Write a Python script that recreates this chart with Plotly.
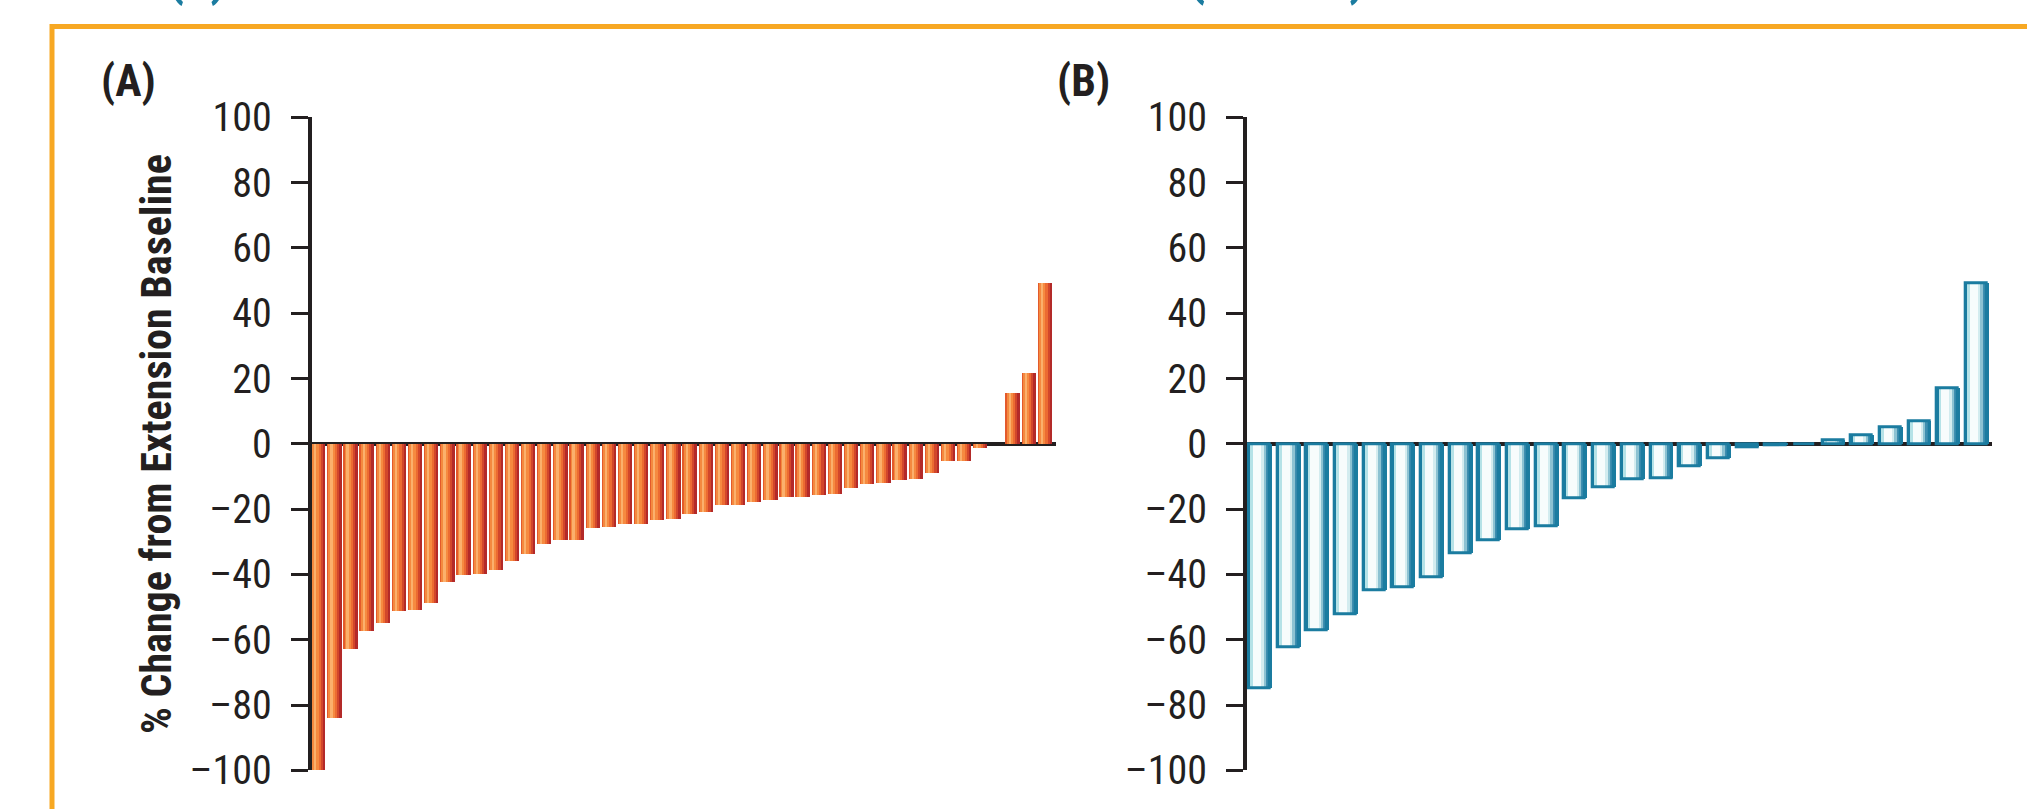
import plotly.graph_objects as go

# ---------------- data ----------------
patients_a = list(range(46))
change_a = [-100.0, -84.2, -62.8, -57.5, -55.1, -51.2, -50.9, -49.0, -42.4, -40.2,
            -39.9, -38.7, -35.9, -33.8, -30.8, -29.5, -29.5, -25.9, -25.6, -24.6,
            -24.6, -23.4, -23.1, -21.7, -21.1, -18.8, -18.8, -17.9, -17.3, -16.4,
            -16.4, -15.8, -15.5, -13.6, -12.4, -12.1, -11.3, -10.9, -9.1, -5.4,
            -5.4, -1.4, 0.0, 15.4, 21.5, 49.3]

patients_b = list(range(26))
change_b = [-74.9, -62.4, -57.1, -52.3, -44.8, -43.8, -40.8, -33.6, -29.7, -26.2,
            -25.3, -16.7, -13.4, -11.0, -10.7, -6.9, -4.3, -1.1, -0.5, 0.0,
            1.1, 2.6, 5.2, 7.0, 17.1, 49.3]

y_ticks = [-100, -80, -60, -40, -20, 0, 20, 40, 60, 80, 100]
y_tick_labels = [str(v).replace("-", "\u2013") for v in y_ticks]
panel_labels = ["(A)", "(B)"]
y_title = "% Change from Extension Baseline"
header_fragments = ["(a)", "(n = 26)"]

# ---------------- style ----------------
W, H = 2027, 809
INK = "#231f20"
TEAL = "#1b7ca0"
ORANGE_FRAME = "#f7a823"
FONT = "Roboto Condensed, Liberation Sans Narrow, Arial Narrow, DejaVu Sans Condensed, sans-serif"

stripes_a = [(0.00, 0.12, "#e35a2b"), (0.12, 0.22, "#f4893f"), (0.22, 0.38, "#fbb06c"),
             (0.38, 0.55, "#f68a40"), (0.55, 0.70, "#ec6b32"), (0.70, 0.85, "#d2472b"),
             (0.85, 1.00, "#b32a29")]
stripes_b = [(0.00, 0.13, TEAL), (0.13, 0.24, "#b5e2e7"), (0.24, 0.58, "#f7fcfc"),
             (0.58, 0.68, "#d3ecef"), (0.68, 0.78, "#8cc2d2"), (0.78, 0.88, "#3f8fb0"),
             (0.88, 1.00, TEAL)]

bar_w_a = 0.867
bar_w_b = 0.837

fig = go.Figure()

def add_stripes(xs, ys, stripes, w, xa, ya):
    for f0, f1, col in stripes:
        sw = (f1 - f0) * w + 0.02
        fig.add_trace(go.Bar(
            x=xs, y=ys, width=sw, offset=-w / 2 + f0 * w - 0.01,
            marker=dict(color=col, line=dict(width=0)),
            xaxis=xa, yaxis=ya, showlegend=False, hoverinfo="skip"))

add_stripes(patients_a, change_a, stripes_a, bar_w_a, "x", "y")
add_stripes(patients_b, change_b, stripes_b, bar_w_b, "x2", "y2")

ow = bar_w_b - 3 / 28.67
fig.add_trace(go.Bar(
    x=patients_b, y=change_b, width=ow, offset=-ow / 2,
    marker=dict(color="rgba(0,0,0,0)", line=dict(color=TEAL, width=3)),
    xaxis="x2", yaxis="y2", showlegend=False, hoverinfo="skip"))

ydom = [1 - 770.3 / H, 1 - 117.3 / H]

yax_common = dict(
    domain=ydom, range=[-100, 100], tickmode="array", tickvals=y_ticks,
    ticktext=y_tick_labels, showline=True, linecolor=INK, linewidth=3.5,
    ticks="outside", ticklen=17, tickwidth=3, tickcolor=INK,
    zeroline=True, zerolinecolor=INK, zerolinewidth=3.5, showgrid=False,
    layer="above traces", tickfont=dict(family=FONT, size=40, color=INK),
    ticklabelstandoff=11, fixedrange=True, automargin=False,
)
xax_common = dict(showline=False, showticklabels=False, ticks="", showgrid=False,
                  zeroline=False, fixedrange=True, automargin=False)

fig.update_layout(
    template="none",
    width=W, height=H, autosize=False,
    margin=dict(l=0, r=0, t=0, b=0),
    paper_bgcolor="white", plot_bgcolor="rgba(0,0,0,0)",
    barmode="overlay", bargap=0,
    xaxis=dict(domain=[311.5 / W, 1056 / W], range=[-0.384, 45.72], anchor="y", **xax_common),
    xaxis2=dict(domain=[1246.7 / W, 1991.7 / W], range=[-0.44, 25.545], anchor="y2", **xax_common),
    yaxis=dict(anchor="x", **yax_common),
    yaxis2=dict(anchor="x2", **yax_common),
    shapes=[dict(type="rect", xref="paper", yref="paper",
                 x0=52 / W, x1=1.1, y0=-0.1, y1=1 - 26.5 / H,
                 line=dict(color=ORANGE_FRAME, width=5), fillcolor="rgba(0,0,0,0)")],
    annotations=[
        dict(text=y_title, xref="paper", yref="paper", x=156 / W, y=1 - 444 / H,
             xanchor="center", yanchor="middle", textangle=-90, showarrow=False,
             font=dict(family=FONT, size=42, color=INK, weight="bold")),
        dict(text=panel_labels[0], xref="paper", yref="paper", x=128 / W, y=1 - 81 / H,
             xanchor="center", yanchor="middle", showarrow=False,
             font=dict(family=FONT, size=44, color=INK, weight="bold")),
        dict(text=panel_labels[1], xref="paper", yref="paper", x=1083 / W, y=1 - 81 / H,
             xanchor="center", yanchor="middle", showarrow=False,
             font=dict(family=FONT, size=44, color=INK, weight="bold")),
        dict(text=header_fragments[0], xref="paper", yref="paper", x=197 / W, y=1 - 9 / H,
             xanchor="center", yanchor="bottom", showarrow=False,
             font=dict(family=FONT, size=54, color=TEAL, weight="bold")),
        dict(text=header_fragments[1], xref="paper", yref="paper", x=1277 / W, y=1 - 9 / H,
             xanchor="center", yanchor="bottom", showarrow=False,
             font=dict(family=FONT, size=58, color=TEAL, weight="bold")),
    ],
)

fig.write_html("out.html", config=dict(displayModeBar=False),
               post_script="document.body.style.margin='0';document.body.style.overflow='hidden';")
